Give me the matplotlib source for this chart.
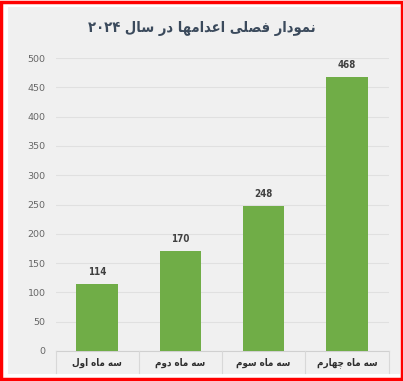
import matplotlib
matplotlib.use('Agg')
import matplotlib.pyplot as plt
from matplotlib.patches import Rectangle

# داده‌ها
categories = ['سه ماه اول', 'سه ماه دوم', 'سه ماه سوم', 'سه ماه چهارم']
values = [114, 170, 248, 468]
title = 'نمودار فصلی اعدامها در سال ۲۰۲۴'
yticks = [0, 50, 100, 150, 200, 250, 300, 350, 400, 450, 500]

# presentation forms: isolated, final, initial, medial
FORMS = {
    'ا': ('\uFE8D', '\uFE8E', None, None),
    'د': ('\uFEA9', '\uFEAA', None, None),
    'ر': ('\uFEAD', '\uFEAE', None, None),
    'و': ('\uFEED', '\uFEEE', None, None),
    'ن': ('\uFEE5', '\uFEE6', '\uFEE7', '\uFEE8'),
    'م': ('\uFEE1', '\uFEE2', '\uFEE3', '\uFEE4'),
    'ف': ('\uFED1', '\uFED2', '\uFED3', '\uFED4'),
    'ص': ('\uFEB9', '\uFEBA', '\uFEBB', '\uFEBC'),
    'ل': ('\uFEDD', '\uFEDE', '\uFEDF', '\uFEE0'),
    'ی': ('\uFBFC', '\uFBFD', '\uFBFE', '\uFBFF'),
    'ع': ('\uFEC9', '\uFECA', '\uFECB', '\uFECC'),
    'ه': ('\uFEE9', '\uFEEA', '\uFEEB', '\uFEEC'),
    'س': ('\uFEB1', '\uFEB2', '\uFEB3', '\uFEB4'),
    'چ': ('\uFB7A', '\uFB7B', '\uFB7C', '\uFB7D'),
}


def shape_word(w):
    if w[0] not in FORMS:
        return w  # digits stay left-to-right
    out = []
    for i, ch in enumerate(w):
        f = FORMS[ch]
        prev = i > 0 and FORMS[w[i - 1]][2] is not None
        nxt = f[2] is not None and i < len(w) - 1
        if prev and nxt:
            out.append(f[3])
        elif prev:
            out.append(f[1])
        elif nxt:
            out.append(f[2])
        else:
            out.append(f[0])
    return ''.join(reversed(out))


def rtl(text):
    return ' '.join(shape_word(w) for w in reversed(text.split()))


fig = plt.figure(figsize=(4.03, 3.81), dpi=100, facecolor='white')
fig.patches.append(Rectangle((0.003, 0.004), 0.994, 0.992, transform=fig.transFigure,
                             facecolor='none', edgecolor='#ff0000', linewidth=2.5, zorder=-2))
fig.patches.append(Rectangle((8 / 403, 7 / 381), 392 / 403, 367 / 381, transform=fig.transFigure,
                             facecolor='#f0f0f0', edgecolor='none', zorder=-1))

ax = fig.add_axes([55.5 / 403, 30 / 381, 333 / 403, 293 / 381])
ax.set_facecolor('none')

x = range(len(categories))
bars = ax.bar(x, values, width=0.5, color='#70ad47', zorder=3)
for b, v in zip(bars, values):
    ax.annotate(str(v), (b.get_x() + b.get_width() / 2, v), xytext=(0, 5),
                textcoords='offset points', ha='center', va='bottom',
                fontsize=7, fontweight='bold', color='#404040', fontstretch='condensed')

ax.set_xlim(-0.5, len(categories) - 0.5)
ax.set_ylim(0, 500)
ax.set_yticks(yticks)
ax.yaxis.grid(True, color='#e0e0e0', linewidth=0.8, zorder=0)
ax.tick_params(axis='y', length=0, pad=7, labelsize=6.8, labelcolor='#666666')
ax.set_xticks([])
for s in ax.spines.values():
    s.set_visible(False)

# جدول برچسب‌ها در پایین
trans = ax.get_xaxis_transform()
ax.plot([-0.5, len(categories) - 0.5], [0, 0], transform=trans, color='#d0d0d0',
        linewidth=0.8, clip_on=False)
for i in range(len(categories) + 1):
    ax.plot([i - 0.5, i - 0.5], [0, -0.075], transform=trans, color='#d8d8d8',
            linewidth=0.8, clip_on=False)
for i, c in enumerate(categories):
    ax.text(i, -0.041, rtl(c), transform=trans, ha='center', va='center',
            fontsize=7, fontweight='bold', color='#2f2f2f',
            family=['DejaVu Sans'], fontstretch='condensed')

fig.text(0.5, 1 - 29 / 381, rtl(title), ha='center', va='center', fontsize=10.5,
         fontweight='bold', color='#3b4a5c', family=['DejaVu Sans'], fontstretch='condensed')

fig.savefig('out.png', dpi=100)
